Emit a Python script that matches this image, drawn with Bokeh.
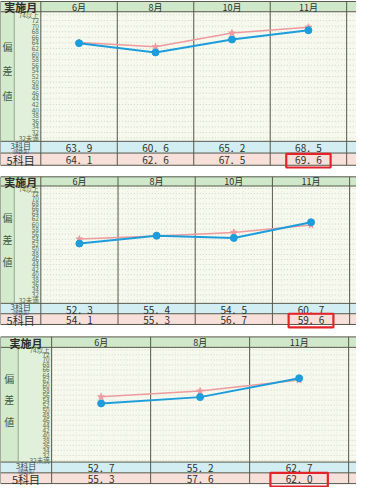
from bokeh.plotting import figure
from bokeh.models import Range1d
from bokeh.core.properties import value
from bokeh.embed import file_html
from bokeh.resources import INLINE

# ---------------- data ----------------
months1 = ["6月", "8月", "10月", "11月"]
san1 = [63.9, 60.6, 65.2, 68.5]   # 3科目(国数英)
go1 = [64.1, 62.6, 67.5, 69.6]    # 5科目

months2 = ["6月", "8月", "10月", "11月"]
san2 = [52.3, 55.4, 54.5, 60.7]
go2 = [54.1, 55.3, 56.7, 59.6]

months3 = ["6月", "8月", "11月"]
san3 = [52.7, 55.2, 62.7]
go3 = [55.3, 57.6, 62.0]

y_tick_vals = [74, 72, 70, 68, 66, 64, 62, 60, 58, 56, 54, 52, 50, 48, 46, 44, 42, 40, 38, 36, 34, 32, 30]
y_tick_labels = ["74以上", "72", "70", "68", "66", "64", "62", "60", "58", "56", "54", "52", "50",
                 "48", "46", "44", "42", "40", "38", "36", "34", "32", "32未満"]

# ---------------- layout (page layout units) ----------------
X0, X1 = 3, 365
Y0, Y1 = 2, 500
W, H = 356, 487
XR = X1 + 8

panels = [
    dict(top=3, hb=13.5, cb=146, r1=158, r2=170.5, inner=17, lab=44, right=355,
         y74=16.7, y30=142.7, months=months1, san=san1, go=go1),
    dict(top=182.3, hb=191.7, cb=311.7, r1=322.3, r2=333.3, inner=17, lab=44, right=358,
         y74=194.3, y30=308.3, months=months2, san=san2, go=go2),
    dict(top=346, hb=356.7, cb=474, r1=485, r2=496, inner=21, lab=55, right=357,
         y74=359.3, y30=472.3, months=months3, san=san3, go=go3),
]

FONT = value("Noto Sans CJK JP")
HEAD_BG = "#cfe8ca"
LAB_BG = "#d4eacd"
NUM_BG = "#e1f0da"
CHART_BG = "#f7f9ef"
ROW3_BG = "#d2eef2"
ROW5_BG = "#f7e0da"
BORDER = "#55584a"
DOT = "#cbd8be"
BLUE = "#1d9ddb"
PINK = "#ee9a9e"
RED = "#e2232a"
TXT = "#2e2e2a"

p = figure(width=W, height=H, x_range=Range1d(X0, X1), y_range=Range1d(Y1, Y0),
           toolbar_location=None, output_backend="svg", min_border=0,
           x_axis_location=None, y_axis_location=None)
p.xgrid.visible = False
p.ygrid.visible = False
p.outline_line_color = None
p.background_fill_color = "white"
p.border_fill_color = "white"


def fy(r):
    return (Y1 - r) / (Y1 - Y0)


def fx(r):
    return (r - X0) / (X1 - X0)


for k, d in enumerate(panels):
    n = len(d["months"])
    cw = (d["right"] - d["lab"]) / n
    c0 = d["lab"] + cw / 2
    # value range for this panel
    f74, f30 = fy(d["y74"]), fy(d["y30"])
    span = 44 / (f74 - f30)
    ys = 74 - f74 * span
    yname = f"v{k}"
    p.extra_y_ranges[yname] = Range1d(ys, ys + span)
    # column index range for this panel
    spanx = (X1 - X0) / cw
    xs = -fx(c0) * spanx
    xname = f"c{k}"
    p.extra_x_ranges[xname] = Range1d(xs, xs + spanx)

    top, hb, cb, r1, r2 = d["top"], d["hb"], d["cb"], d["r1"], d["r2"]
    inner, lab = d["inner"], d["lab"]

    # backgrounds
    p.quad(left=[X0, lab], right=[lab, XR], top=[top, top], bottom=[hb, hb],
           fill_color=HEAD_BG, line_color=None)
    p.quad(left=[X0], right=[inner], top=[hb], bottom=[cb], fill_color=LAB_BG, line_color=None)
    p.quad(left=[inner], right=[lab], top=[hb], bottom=[cb], fill_color=NUM_BG, line_color=None)
    p.quad(left=[lab], right=[XR], top=[hb], bottom=[cb], fill_color=CHART_BG, line_color=None)
    p.quad(left=[X0], right=[XR], top=[cb], bottom=[r1], fill_color=ROW3_BG, line_color=None)
    p.quad(left=[X0], right=[XR], top=[r1], bottom=[r2], fill_color=ROW5_BG, line_color=None)

    # dotted grid
    p.segment(x0=[lab] * len(y_tick_vals), x1=[XR] * len(y_tick_vals),
              y0=y_tick_vals, y1=y_tick_vals, y_range_name=yname,
              line_color=DOT, line_width=1, line_dash="1 2")
    vx = [lab + cw * j / 8 for j in range(1, int((XR - lab) / cw * 8)) if j % 8 != 0]
    p.segment(x0=vx, x1=vx, y0=[hb] * len(vx), y1=[cb] * len(vx),
              line_color=DOT, line_width=1, line_dash="1 4", line_alpha=0.45)

    # borders
    hy = [top, hb, cb, r1, r2]
    p.segment(x0=[X0] * 5, x1=[XR] * 5, y0=hy, y1=hy, line_color=BORDER, line_width=1)
    vlines = [X0, lab] + [lab + cw * j for j in range(1, n + 1)]
    p.segment(x0=vlines, x1=vlines, y0=[top] * len(vlines), y1=[r2] * len(vlines),
              line_color=BORDER, line_width=1)
    p.segment(x0=[inner], x1=[inner], y0=[hb], y1=[cb], line_color="#8fa88a", line_width=1)
    p.segment(x0=[lab + cw * (n + 1)] * 1, x1=[lab + cw * (n + 1)], y0=[top], y1=[r2],
              line_color="#9aa890", line_width=1)

    # header texts
    p.text(x=[(X0 + lab) / 2], y=[(top + hb) / 2 + 0.5], text=["実施月"], text_font=FONT,
           text_font_size=value("11px"), text_align="center", text_baseline="middle",
           text_color=TXT, text_font_style="bold")
    p.text(x=list(range(n)), y=[(top + hb) / 2 + 0.5] * n, text=d["months"], x_range_name=xname,
           text_font=FONT, text_font_size=value("9px"), text_align="center",
           text_baseline="middle", text_color=TXT)

    # y tick labels
    p.text(x=[lab - 2] * len(y_tick_vals), y=y_tick_vals, text=y_tick_labels, y_range_name=yname,
           text_font=FONT, text_font_size=value("6.5px"), text_align="right",
           text_baseline="middle", text_color="#5a6e52")

    # 偏差値
    ch = cb - hb
    p.text(x=[(X0 + inner) / 2] * 3, y=[hb + ch * 0.27, hb + ch * 0.455, hb + ch * 0.645],
           text=["偏", "差", "値"], text_font=FONT, text_font_size=value("10px"),
           text_align="center", text_baseline="middle", text_color="#3f5b3f")

    # row labels
    p.text(x=[(X0 + lab) / 2], y=[cb + (r1 - cb) * 0.33], text=["3科目"], text_font=FONT,
           text_font_size=value("8px"), text_align="center", text_baseline="middle",
           text_color="#3a4a5a")
    p.text(x=[(X0 + lab) / 2], y=[cb + (r1 - cb) * 0.8], text=["(国数英)"], text_font=FONT,
           text_font_size=value("4.5px"), text_align="center", text_baseline="middle",
           text_color="#3a4a5a")
    p.text(x=[(X0 + lab) / 2], y=[(r1 + r2) / 2 + 0.5], text=["5科目"], text_font=FONT,
           text_font_size=value("11px"), text_align="center", text_baseline="middle",
           text_color=TXT)

    # table values
    p.text(x=list(range(n)), y=[(cb + r1) / 2 + 0.5] * n,
           text=[f"{v:.1f}".replace(".", "．") for v in d["san"]], x_range_name=xname,
           text_font=FONT, text_font_size=value("10px"), text_align="center",
           text_baseline="middle", text_color=TXT)
    p.text(x=list(range(n)), y=[(r1 + r2) / 2 + 0.5] * n,
           text=[f"{v:.1f}".replace(".", "．") for v in d["go"]], x_range_name=xname,
           text_font=FONT, text_font_size=value("10px"), text_align="center",
           text_baseline="middle", text_color=TXT)

    # red highlight box around the latest 5科目 value
    p.rect(x=[n - 1], y=[(r1 + r2) / 2 + 1.5], width=[0.58], height=[14], x_range_name=xname,
           fill_color=None, line_color=RED, line_width=2.2)

    # lines
    idx = list(range(n))
    p.line(x=idx, y=d["go"], x_range_name=xname, y_range_name=yname,
           line_color=PINK, line_width=1.5)
    p.scatter(x=idx, y=d["go"], x_range_name=xname, y_range_name=yname,
              marker="star", size=7, fill_color=PINK, line_color=PINK)
    p.line(x=idx, y=d["san"], x_range_name=xname, y_range_name=yname,
           line_color=BLUE, line_width=2)
    p.scatter(x=idx, y=d["san"], x_range_name=xname, y_range_name=yname,
              marker="circle", size=7, fill_color=BLUE, line_color=BLUE)

open("out.html", "w").write(file_html(p, INLINE))
